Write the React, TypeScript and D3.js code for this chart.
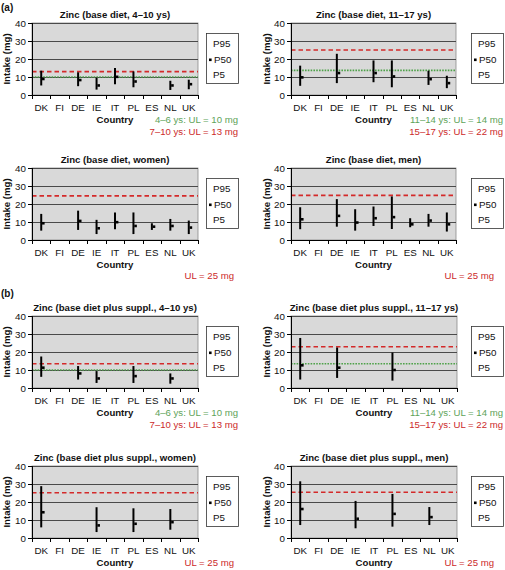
import React from "react";
import * as d3 from "d3";

const countries = ["DK", "FI", "DE", "IE", "IT", "PL", "ES", "NL", "UK"];
const yTicks = [0, 10, 20, 30, 40];
const legendLabels = ["P95", "P50", "P5"];

// (a) base diet
const baseKidsP95 = [13.5, null, 12.6, 9.6, 15.0, 13.1, null, 7.9, 8.5];
const baseKidsP50 = [8.9, null, 8.3, 5.3, 10.1, 7.5, null, 5.3, 6.0];
const baseKidsP5 = [5.3, null, 4.9, 3.0, 6.0, 4.3, null, 2.8, 3.2];

const baseTeenP95 = [16.3, null, 22.9, null, 19.2, 19.2, null, 13.5, 10.7];
const baseTeenP50 = [9.8, null, 12.2, null, 12.2, 10.3, null, 8.8, 6.6];
const baseTeenP5 = [5.1, null, 6.6, null, 7.1, 4.3, null, 5.6, 3.8];

const baseWomenP95 = [14.5, null, 16.3, 11.2, 15.3, 15.3, 9.3, 11.7, 10.8];
const baseWomenP50 = [9.3, null, 10.6, 6.5, 9.9, 7.8, 7.4, 7.8, 6.9];
const baseWomenP5 = [5.2, null, 5.6, 3.3, 6.0, 3.3, 5.6, 5.2, 3.3];

const baseMenP95 = [18.2, null, 22.7, 17.1, 18.6, 24.2, 12.1, 14.5, 15.3];
const baseMenP50 = [11.5, null, 13.4, 9.7, 12.1, 12.7, 8.7, 10.8, 8.7];
const baseMenP5 = [6.0, null, 7.4, 5.2, 7.8, 6.1, 7.1, 7.4, 4.7];

// (b) base diet plus supplements
const suppKidsP95 = [17.5, null, 12.2, 9.4, null, 12.2, null, 8.1, null];
const suppKidsP50 = [11.3, null, 8.1, 5.3, null, 6.6, null, 5.3, null];
const suppKidsP5 = [6.2, null, 4.7, 2.8, null, 2.8, null, 2.4, null];

const suppTeenP95 = [27.8, null, 22.5, null, null, 19.7, null, null, null];
const suppTeenP50 = [12.6, null, 11.3, null, null, 10.0, null, null, null];
const suppTeenP5 = [4.7, null, 5.6, null, null, 4.1, null, null, null];

const suppWomenP95 = [28.8, null, null, 17.1, null, 16.5, null, 16.1, null];
const suppWomenP50 = [14.3, null, null, 7.0, null, 7.9, null, 8.8, null];
const suppWomenP5 = [5.9, null, null, 3.3, null, 3.3, null, 4.6, null];

const suppMenP95 = [31.5, null, null, 20.6, null, 24.5, null, 17.2, null];
const suppMenP50 = [16.1, null, null, 10.7, null, 13.4, null, 11.6, null];
const suppMenP5 = [7.2, null, null, 5.4, null, 6.3, null, 7.2, null];

// reference (UL) lines drawn in each panel
const ulKidsBase = { red: 13, green: 10 };
const ulTeenBase = { red: 25, green: 13.7 };
const ulWomenBase = { red: 24.5 };
const ulMenBase = { red: 24.8 };
const ulKidsSupp = { red: 13.5, green: 10 };
const ulTeenSupp = { red: 22.9, green: 13.5 };
const ulWomenSupp = { red: 25.1 };
const ulMenSupp = { red: 25.4 };

const kidsNotes = ["4–6 ys: UL = 10 mg", "7–10 ys: UL = 13 mg"];
const teenNotes = ["11–14 ys: UL = 14 mg", "15–17 ys: UL = 22 mg"];
const adultNotes = ["UL = 25 mg"];

const FONT = "'Liberation Sans', Arial, sans-serif";
const RED = "#d42a2a";
const GREEN = "#4fa24a";
const GREEN_TXT = "#5ea35a";
const RED_TXT = "#cc2a2a";

type PanelProps = {
  left: number;
  right: number;
  top: number;
  height: number;
  title: string;
  p5: (number | null)[];
  p50: (number | null)[];
  p95: (number | null)[];
  ul: { red?: number; green?: number };
  notes: string[];
  noteX: number;
  noteY: number;
  legendX: number;
  axisLabelX: number;
};

function Panel(props: PanelProps) {
  const { left, right, top, height, title, p5, p50, p95, ul, notes, noteX, noteY, legendX, axisLabelX } = props;
  const bottom = top + height;
  const x = d3.scaleBand<string>().domain(countries).range([left, right]).padding(0);
  const y = d3.scaleLinear().domain([0, 40]).range([bottom, top]);
  const bw = x.bandwidth();
  const boundaries = d3.range(countries.length + 1).map((i) => left + i * bw);
  const midY = (top + bottom) / 2;
  const cx = (left + right) / 2;

  return (
    <g fontFamily={FONT}>
      <text x={cx} y={top - 5} textAnchor="middle" fontWeight="bold" fontSize={9.6} fill="#111">
        {title}
      </text>
      <rect x={left} y={top} width={right - left} height={height} fill="#d9d9d9" stroke="#8a8a8a" strokeWidth={0.8} />
      {yTicks.filter((t) => t > 0).map((t) => (
        <line key={t} x1={left} x2={right} y1={Math.round(y(t)) + 0.5} y2={Math.round(y(t)) + 0.5} stroke="#4a4a4a" strokeWidth={1} />
      ))}
      {ul.green !== undefined && (
        <line x1={left} x2={right} y1={y(ul.green)} y2={y(ul.green)} stroke={GREEN} strokeWidth={1.6} strokeDasharray="1.6,1.2" />
      )}
      {ul.red !== undefined && (
        <line x1={left} x2={right} y1={y(ul.red)} y2={y(ul.red)} stroke={RED} strokeWidth={1.6} strokeDasharray="4.5,3" />
      )}
      <line x1={left + 0.5} x2={left + 0.5} y1={top} y2={bottom + 4} stroke="#000" strokeWidth={1} />
      <line x1={left - 4} x2={right} y1={Math.round(bottom) + 0.5} y2={Math.round(bottom) + 0.5} stroke="#000" strokeWidth={1} />
      {yTicks.map((t) => (
        <g key={t}>
          <line x1={left - 4} x2={left} y1={Math.round(y(t)) + 0.5} y2={Math.round(y(t)) + 0.5} stroke="#000" strokeWidth={1} />
          <text x={left - 6} y={y(t) + 3.5} textAnchor="end" fontSize={9.8} fill="#111">
            {t}
          </text>
        </g>
      ))}
      {boundaries.map((b, i) => (
        <line key={i} x1={Math.round(b) + 0.5} x2={Math.round(b) + 0.5} y1={bottom} y2={bottom + 4} stroke="#000" strokeWidth={1} />
      ))}
      {countries.map((c) => (
        <text key={c} x={(x(c) as number) + bw / 2} y={bottom + 16} textAnchor="middle" fontSize={9.8} fill="#111">
          {c}
        </text>
      ))}
      {countries.map((c, i) => {
        const lo = p5[i];
        const hi = p95[i];
        const md = p50[i];
        if (lo === null || hi === null || md === null) return null;
        const px = (x(c) as number) + bw / 2;
        return (
          <g key={c}>
            <line x1={px} x2={px} y1={y(hi)} y2={y(lo)} stroke="#000" strokeWidth={2} />
            <rect x={px + 0.8} y={y(md) - 1.3} width={2.6} height={2.6} fill="#000" />
          </g>
        );
      })}
      <text
        transform={`translate(${axisLabelX},${midY}) rotate(-90)`}
        textAnchor="middle"
        fontWeight="bold"
        fontSize={9.6}
        fill="#111"
      >
        Intake (mg)
      </text>
      <text x={cx} y={bottom + 28} textAnchor="middle" fontWeight="bold" fontSize={9.6} fill="#111">
        Country
      </text>
      {notes.map((n, i) => (
        <text
          key={n}
          x={noteX}
          y={bottom + noteY + i * 12}
          textAnchor="end"
          fontSize={9.6}
          fill={notes.length === 1 ? RED_TXT : i === 0 ? GREEN_TXT : RED_TXT}
        >
          {n}
        </text>
      ))}
      <rect x={legendX + 0.5} y={top + 10.5} width={32} height={50} fill="#fff" stroke="#333" strokeWidth={0.8} />
      {legendLabels.map((l, i) => (
        <text key={l} x={legendX + (i === 1 ? 8 : 7)} y={top + 10 + 14 + i * 15.5} fontSize={9.8} fill="#111">
          {l}
        </text>
      ))}
      <rect x={legendX + 3} y={top + 10 + 25.5} width={2.6} height={2.6} fill="#000" />
    </g>
  );
}

export default function App() {
  const L = { left: 32, right: 198, legendX: 206, axisLabelX: 10 };
  const R = { left: 291, right: 457, legendX: 471, axisLabelX: 270 };
  const h = 72;
  return (
    <svg width={505} height={570} style={{ position: "absolute", left: 0, top: 0, background: "#fff" }}>
      <text x={1} y={11} fontFamily={FONT} fontWeight="bold" fontSize={10} fill="#111">(a)</text>
      <text x={1} y={297} fontFamily={FONT} fontWeight="bold" fontSize={10} fill="#111">(b)</text>

      <Panel {...L} top={23} height={h} title="Zinc (base diet, 4–10 ys)" p5={baseKidsP5} p50={baseKidsP50} p95={baseKidsP95}
        ul={ulKidsBase} notes={kidsNotes} noteX={238} noteY={28} />
      <Panel {...R} right={456} top={23} height={h} title="Zinc (base diet, 11–17 ys)" p5={baseTeenP5} p50={baseTeenP50} p95={baseTeenP95}
        ul={ulTeenBase} notes={teenNotes} noteX={503} noteY={28} />
      <Panel {...L} top={168} height={h} title="Zinc (base diet, women)" p5={baseWomenP5} p50={baseWomenP50} p95={baseWomenP95}
        ul={ulWomenBase} notes={adultNotes} noteX={234} noteY={39} />
      <Panel {...R} right={456} top={168} height={h} title="Zinc (base diet, men)" p5={baseMenP5} p50={baseMenP50} p95={baseMenP95}
        ul={ulMenBase} notes={adultNotes} noteX={494} noteY={39} />

      <Panel {...L} top={316} height={h} title="Zinc (base diet plus suppl., 4–10 ys)" p5={suppKidsP5} p50={suppKidsP50} p95={suppKidsP95}
        ul={ulKidsSupp} notes={kidsNotes} noteX={238} noteY={28} />
      <Panel {...R} top={316} height={h} title="Zinc (base diet plus suppl., 11–17 ys)" p5={suppTeenP5} p50={suppTeenP50} p95={suppTeenP95}
        ul={ulTeenSupp} notes={teenNotes} noteX={503} noteY={28} />
      <Panel {...L} top={466} height={h} title="Zinc (base diet plus suppl., women)" p5={suppWomenP5} p50={suppWomenP50} p95={suppWomenP95}
        ul={ulWomenSupp} notes={adultNotes} noteX={234} noteY={28} />
      <Panel {...R} top={466} height={h} title="Zinc (base diet plus suppl., men)" p5={suppMenP5} p50={suppMenP50} p95={suppMenP95}
        ul={ulMenSupp} notes={adultNotes} noteX={494} noteY={28} />
    </svg>
  );
}
